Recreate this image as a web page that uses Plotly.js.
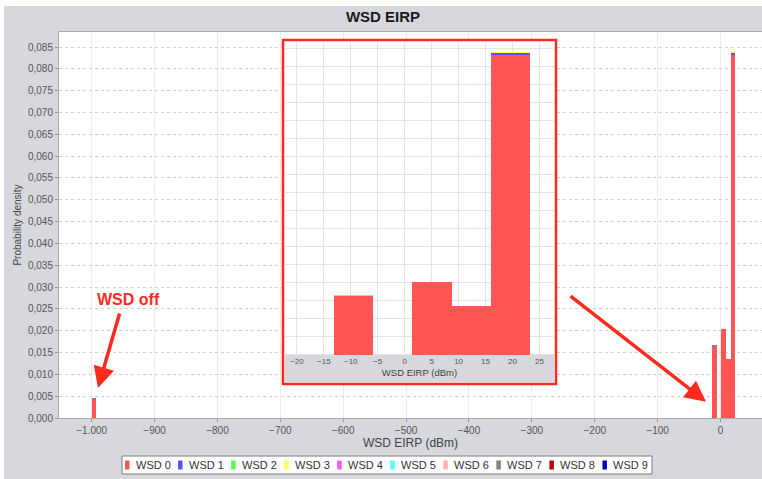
<!DOCTYPE html>
<html><head><meta charset="utf-8">
<script src="https://cdn.plot.ly/plotly-3.0.1.min.js"></script>
<style>html,body{margin:0;padding:0;background:#fff;overflow:hidden;} #chart{position:absolute;left:4px;top:6px;width:758px;height:473px;}</style>
</head><body><div id="chart"></div>
<script>
// ---- data ----
const binStart = [-1000, -13.2, 1.4, 8.7, 16.0];
const binWidth = 7.3;
const seriesNames = ['WSD 0','WSD 1','WSD 2','WSD 3','WSD 4','WSD 5','WSD 6','WSD 7','WSD 8','WSD 9'];
const seriesColors = ['#ff5555','#5555ff','#55ff55','#ffff55','#ff55ff','#55ffff','#ffafaf','#808080','#c00000','#0000c0'];
const wsd0 = [0.0043, 0.0164, 0.0203, 0.0136, 0.0832];
const wsd1 = [0, 0, 0, 0, 0.0005];
const wsd2 = [0, 0, 0, 0, 0];
const wsd3 = [0, 0, 0, 0, 0.0003];
const wsd4 = [0, 0, 0, 0, 0];
const wsd5 = [0.0001, 0.0001, 0, 0, 0];
const wsd6 = [0, 0, 0, 0, 0];
const wsd7 = [0.0002, 0.0002, 0, 0, 0];
const wsd8 = [0, 0, 0, 0, 0];
const wsd9 = [0, 0, 0, 0, 0];
const seriesValues = [wsd0, wsd1, wsd2, wsd3, wsd4, wsd5, wsd6, wsd7, wsd8, wsd9];
const mainXTicks = [-1000,-900,-800,-700,-600,-500,-400,-300,-200,-100,0];
const insetXTicks = [-20,-15,-10,-5,0,5,10,15,20,25];

// ---- geometry helpers (page px -> paper fraction) ----
const W = 758, H = 473, ML = 55, MR = 0, MT = 26, MB = 61;
const PW = W - ML - MR, PH = H - MT - MB;
const fx = px => (px - 4 - ML) / PW;
const fy = py => (MT + PH - (py - 6)) / PH;

const FONT = 'Liberation Sans, Arial, sans-serif';
const BG = '#d6d8dd';

const traces = [];
seriesValues.forEach((vals, i) => {
  ['x','x2'].forEach((ax, k) => {
    traces.push({
      type: 'bar', name: seriesNames[i],
      x: binStart, y: vals,
      width: binWidth, offset: 0,
      xaxis: ax, yaxis: k === 0 ? 'y' : 'y2',
      marker: {color: seriesColors[i], line: {width: 0}},
      showlegend: false, hoverinfo: 'skip'
    });
  });
});

const insetXRange = [-22.2, 27.7];
const insetYRange = [-0.0075, 0.0868];

const shapes = [
  {type:'rect', xref:'x2', yref:'y2', x0:insetXRange[0], x1:insetXRange[1], y0:0, y1:insetYRange[1],
   fillcolor:'#ffffff', line:{width:0}, layer:'below'},
  {type:'rect', xref:'x2', yref:'y2', x0:insetXRange[0], x1:insetXRange[1], y0:insetYRange[0], y1:0,
   fillcolor:BG, line:{width:0}, layer:'between'},
  {type:'rect', xref:'paper', yref:'paper', x0:fx(283), x1:fx(556), y0:fy(384), y1:fy(40),
   line:{color:'#ff2a1e', width:2.5}, fillcolor:'rgba(0,0,0,0)', layer:'above'},
  {type:'rect', xref:'paper', yref:'paper', x0:fx(122), x1:fx(652), y0:fy(474), y1:fy(456),
   line:{color:'#7a7a7a', width:1}, fillcolor:'#ffffff', layer:'above'}
];
const annotations = [];
seriesNames.forEach((n, i) => {
  const sx = 125 + 53.05 * i;
  shapes.push({type:'rect', xref:'paper', yref:'paper', x0:fx(sx), x1:fx(sx + 4.5), y0:fy(469.5), y1:fy(460.5),
    fillcolor: seriesColors[i], line:{width:0}, layer:'above'});
  annotations.push({xref:'paper', yref:'paper', x:fx(sx + 8.5), y:fy(465), xanchor:'left', yanchor:'middle',
    text:n, showarrow:false, font:{family:FONT, size:11, color:'#333'}});
});

annotations.push({xref:'x', yref:'y', x:-942, y:0.0272, text:'<b>WSD off</b>', showarrow:false,
  font:{family:FONT, size:16, color:'#ff2a1e'}});
annotations.push({xref:'x', yref:'y', x:-990, y:0.0069, text:'', showarrow:true, arrowhead:2, arrowsize:1.2,
  arrowwidth:3.5, arrowcolor:'#ff2a1e', ax:22, ay:-76, standoff:0});
annotations.push({xref:'x', yref:'y', x:-23, y:0.0037, text:'', showarrow:true, arrowhead:2, arrowsize:1.2,
  arrowwidth:3.5, arrowcolor:'#ff2a1e', ax:-137, ay:-107, standoff:0});

const layout = {
  width: W, height: H,
  margin: {l: ML, r: MR, t: MT, b: MB},
  paper_bgcolor: BG, plot_bgcolor: '#ffffff',
  separators: ',.',
  barmode: 'stack', bargap: 0,
  showlegend: false,
  font: {family: FONT, color: '#444'},
  title: {text: '<b>WSD EIRP</b>', font: {family: FONT, size: 15, color: '#1a1a1a'},
          xref: 'container', x: 0.5, yref: 'container', y: 1 - 11 / H, yanchor: 'middle'},
  xaxis: {
    domain: [0, 1], range: [-1052, 66], tickvals: mainXTicks, tickformat: ',d',
    showgrid: true, gridcolor: '#ececec', gridwidth: 1,
    zeroline: false, showline: true, linecolor: '#a8a8a8', mirror: true,
    ticks: 'outside', ticklen: 3, tickcolor: '#999',
    tickfont: {family: FONT, size: 10, color: '#555'},
    title: {text: 'WSD EIRP (dBm)', font: {family: FONT, size: 12, color: '#444'}, standoff: 2},
    automargin: false
  },
  yaxis: {
    domain: [0, 1], range: [0, 0.08845], dtick: 0.005, tick0: 0, tickformat: '.3f',
    showgrid: true, gridcolor: '#cfcfcf', griddash: 'dot', gridwidth: 1,
    zeroline: false, showline: true, linecolor: '#a8a8a8', mirror: true,
    ticks: 'outside', ticklen: 3, tickcolor: '#999',
    tickfont: {family: FONT, size: 10, color: '#555'},
    title: {text: 'Probability density', font: {family: FONT, size: 10, color: '#444'}, standoff: 4},
    automargin: false
  },
  xaxis2: {
    domain: [fx(285), fx(554)], anchor: 'free', position: fy(355),
    range: insetXRange, tickvals: insetXTicks, tickformat: 'd',
    showgrid: true, gridcolor: '#e4e4e4', zeroline: false, showline: false,
    ticks: '', tickfont: {family: FONT, size: 8, color: '#555'},
    title: {text: 'WSD EIRP (dBm)', font: {family: FONT, size: 9.5, color: '#444'}, standoff: 4},
    automargin: false
  },
  yaxis2: {
    domain: [fy(382), fy(42)], anchor: 'x2',
    range: insetYRange, dtick: 0.005, tick0: 0,
    showgrid: true, gridcolor: '#e4e4e4', zeroline: false, showline: false,
    showticklabels: false, ticks: '', automargin: false
  },
  shapes: shapes,
  annotations: annotations
};

Plotly.newPlot('chart', traces, layout, {staticPlot: true, displayModeBar: false});
</script>
</body></html>
